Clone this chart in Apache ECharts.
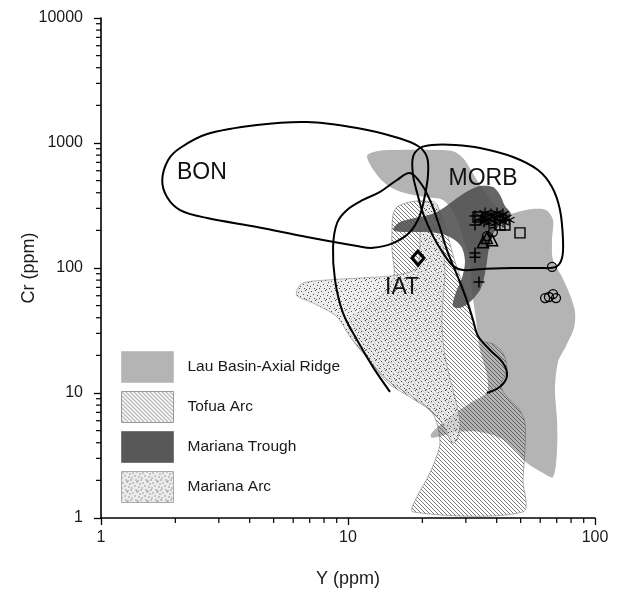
<!DOCTYPE html>
<html>
<head>
<meta charset="utf-8">
<script src="https://cdn.jsdelivr.net/npm/echarts/dist/echarts.min.js"></script>
<style>
  html, body { margin: 0; padding: 0; background: #fff; }
  #chart { width: 627px; height: 597px; }
</style>
</head>
<body>
<div id="chart"></div>
<script>
// Field outlines, as [Y ppm, Cr ppm] vertices
const lauBasin = [
  [11.94,787],[13.23,863],[16.24,879],[21.48,879],[26.37,863],[29.21,759],[31.77,586],[34.87,437],
  [38.64,331],[43.21,270],[48.79,281],[55.58,296],[63.33,291],[67.61,242],[66.97,167],[67.61,116],
  [73.53,84.7],[79.22,60.8],[82.99,44.5],[82.22,33.1],[76.32,23.8],[70.84,17.7],[68.88,10.6],
  [70.18,6.08],[70.18,3.5],[67.61,2.13],[61.58,2.29],[53.05,2.75],[47.44,3.5],[41.25,4.37],
  [34.22,4.88],[27.63,4.88],[21.88,4.37],[21.68,4.7],[23.58,5.55],[27.12,6.92],[31.77,8.47],
  [36.54,10.2],[36.54,13.9],[34.22,22.1],[32.98,38.4],[31.77,66.7],[31.18,116],[28.94,184],
  [27.12,265],[24.24,350],[20.5,370],[17.01,398],[14.79,445],[13.11,555]
];
const tofuaArc = [
  [15.21,265],[15.79,308],[17.82,337],[20.5,344],[22.72,319],[24.24,242],[25.63,167],[27.12,112],
  [28.94,77.3],[30.6,55.5],[32.37,37.0],[34.22,26.5],[38.64,24.7],[42.42,20.9],[44.03,15.3],
  [41.64,11.4],[44.03,9.29],[49.24,7.45],[52.07,5.75],[52.07,3.5],[51.11,2.01],[51.11,1.12],
  [18.33,1.12],[19.2,1.53],[21.08,2.13],[22.72,3.02],[23.58,4.06],[22.09,6.79],[17.82,9.29],
  [14.52,12.0],[12.16,18.4],[10.47,26.5],[10.0,35.0],[10.38,39.8],[11.94,49.7],[14.12,64.3],
  [15.36,87.9],[15.07,139],[15.07,201]
];
const marianaArc = [
  [6.22,66.7],[6.57,75.9],[8.22,80.2],[11.19,83.2],[14.79,86.3],[17.82,92.9],[19.2,104],[19.56,167],
  [19.56,265],[20.12,325],[21.88,344],[23.14,313],[23.79,233],[24.24,153],[24.7,91.2],[24.24,55.5],
  [24.02,35.0],[24.47,22.1],[25.4,15.3],[26.61,10.6],[27.88,7.31],[28.41,5.55],[27.63,4.21],
  [26.37,3.98],[24.7,5.25],[22.09,7.05],[17.82,9.64],[14.38,12.7],[11.94,19.4],[10.19,28.1],
  [9.03,40.6],[7.22,52.5],[6.22,59.7]
];
const marianaTrough = [
  [15.21,205],[16.24,233],[18.67,251],[21.88,270],[24.7,308],[27.63,363],[30.6,413],[34.22,453],
  [38.64,445],[41.25,384],[43.21,313],[45.7,270],[42.42,233],[39.01,194],[37.23,145],[36.19,100],
  [34.55,69.2],[31.48,54.5],[28.41,47.9],[26.61,49.7],[27.37,64.3],[28.94,83.2],[29.76,112],
  [28.94,145],[27.12,167],[24.02,187],[20.5,194],[17.01,194],[15.5,198]
];

// Discrimination field boundaries
const bonField = [
  [1.77,506],[1.87,731],[2.09,912],[2.69,1180],[4.28,1393],[6.82,1472],[10.88,1318],[15.5,1117],
  [19.2,946],[20.88,773],[21.08,555],[20.5,384],[19.56,265],[17.82,194],[15.21,158],[12.63,145],
  [10.88,150],[6.82,177],[4.28,213],[2.69,251],[2.09,291],[1.85,370]
];
const morbField = [
  [18.33,773],[19.56,912],[21.88,964],[27.12,964],[34.22,912],[46.56,773],[58.77,608],[66.97,445],
  [72.17,291],[74.21,167],[73.53,120],[69.52,102],[59.88,100],[46.56,100],[35.2,98.2],[29.21,96.4],
  [26.61,104],[24.24,132],[22.09,180],[20.31,261],[19.2,377],[18.33,555]
];
const iatField = [
  [14.79,10.2],[12.63,16.1],[10.88,26.5],[9.54,43.7],[8.86,80.2],[8.7,147],[9.03,229],[9.91,291],
  [11.5,350],[13.48,406],[15.79,506],[17.82,575],[19.94,461],[21.88,319],[23.58,209],[25.16,139],
  [27.63,87.9],[30.04,57.5],[32.07,38.4],[33.6,28.6],[37.57,22.1],[42.42,17.4],[44.03,13.7],
  [41.25,11.2],[36.54,10.0]
];

// Samples
const diamondPts = [[19.2,120]];
const plusPts = [[33.9,77.3],[32.67,132],[32.67,122],[32.67,261],[32.67,221],[34.55,242]];
const squarePts = [[49.7,191],[33.6,256],[43.2,221],[41.2,221]];
const trianglePts = [[35.2,161],[38.3,167],[36.5,174]];
const circlePts = [[38.6,194],[36.5,180],[67.0,102],[62.8,57.5],[65.1,58.6],[67.6,61.9],[69.5,57.5]];
const asteriskPts = [
  [34.87,256],[35.87,275],[36.89,247],[37.92,270],[39.01,251],[40.11,275],[41.25,256],[42.42,270],
  [43.62,251],[37.23,229],[39.74,229],[42.42,233],[35.53,233],[44.86,242]
];

// Field names and where they sit
const fieldLabels = [
  { name: 'BON', value: [2.56, 575] },
  { name: 'MORB', value: [35.2, 515] },
  { name: 'IAT', value: [16.55, 69.2] }
];

const xMinorTicks = [2,3,4,5,6,7,8,9,20,30,40,50,60,70,80,90];
const yMinorTicks = [2,3,4,5,6,7,8,9,20,30,40,50,60,70,80,90,200,300,400,500,600,700,800,900,2000,3000,4000,5000,6000,7000,8000,9000];

const legendNames = ['Lau Basin-Axial Ridge', 'Tofua Arc', 'Mariana Trough', 'Mariana Arc'];

// Fill tiles
function hatchTile() {
  const c = document.createElement('canvas');
  c.width = 4; c.height = 4;
  const g = c.getContext('2d');
  g.strokeStyle = 'rgba(45,45,45,0.85)';
  g.lineWidth = 0.75;
  g.beginPath();
  g.moveTo(-1, -1); g.lineTo(5, 5);
  g.moveTo(-1, 3); g.lineTo(1, 5);
  g.moveTo(3, -1); g.lineTo(5, 1);
  g.stroke();
  return c;
}
function stippleTile() {
  const c = document.createElement('canvas');
  c.width = 10; c.height = 10;
  const g = c.getContext('2d');
  g.fillStyle = 'rgba(228,228,228,0.7)';
  g.fillRect(0, 0, 10, 10);
  g.fillStyle = 'rgba(60,60,60,0.9)';
  [[1,1],[5,0],[8,2],[3,4],[7,5],[0,6],[4,8],[9,8],[6,9]].forEach(function (d) { g.fillRect(d[0], d[1], 1, 1); });
  return c;
}
const hatchFill = { image: hatchTile(), repeat: 'repeat' };
const stippleFill = { image: stippleTile(), repeat: 'repeat' };

const LAU_COLOR = '#b4b4b4';
const TROUGH_COLOR = 'rgba(80,80,80,0.88)';

function regionSeries(name, pts, style, smooth) {
  return {
    type: 'custom', name: name, coordinateSystem: 'cartesian2d', silent: true,
    data: pts,
    renderItem: function (params, api) {
      if (params.dataIndex !== 0) return null;
      return {
        type: 'polygon',
        shape: { points: pts.map(function (p) { return api.coord(p); }), smooth: smooth },
        style: style
      };
    }
  };
}
function outlineSeries(name, pts, closed) {
  return {
    type: 'custom', name: name, coordinateSystem: 'cartesian2d', silent: true,
    data: pts,
    renderItem: function (params, api) {
      if (params.dataIndex !== 0) return null;
      return {
        type: closed ? 'polygon' : 'polyline',
        shape: { points: pts.map(function (p) { return api.coord(p); }), smooth: 0.35 },
        style: { fill: closed ? 'none' : null, stroke: '#000', lineWidth: 2 }
      };
    }
  };
}
function tickSeries(values, horizontal) {
  return {
    type: 'custom', coordinateSystem: 'cartesian2d', silent: true,
    data: values.map(function (v) { return horizontal ? [v, 1] : [1, v]; }),
    renderItem: function (params, api) {
      const p = api.coord([api.value(0), api.value(1)]);
      const shape = horizontal
        ? { x1: p[0], y1: p[1], x2: p[0], y2: p[1] + 5 }
        : { x1: p[0] - 5, y1: p[1], x2: p[0], y2: p[1] };
      return { type: 'line', shape: shape, style: { stroke: '#000', lineWidth: 1.2 } };
    }
  };
}
function markerSeries(name, pts, symbol, size, width) {
  return {
    type: 'scatter', name: name, data: pts, symbol: symbol, symbolSize: size, silent: true,
    itemStyle: { color: 'rgba(0,0,0,0)', borderColor: '#000', borderWidth: width || 1.2, opacity: 1 }
  };
}

const FONT = '"Liberation Sans", Arial, Helvetica, sans-serif';

const chart = echarts.init(document.getElementById('chart'), null, { renderer: 'canvas' });
chart.setOption({
  backgroundColor: '#fff',
  animation: false,
  grid: { left: 101, right: 32, top: 18, bottom: 79, containLabel: false },
  legend: {
    orient: 'vertical', left: 121, top: 351, padding: 0,
    itemWidth: 52, itemHeight: 31, itemGap: 8,
    icon: 'rect', selectedMode: false,
    textStyle: { fontFamily: FONT, fontSize: 15.5, color: '#1a1a1a', padding: [0, 0, 0, 9] },
    data: [
      { name: legendNames[0], itemStyle: { color: LAU_COLOR, borderColor: '#c4c4c4', borderWidth: 1 } },
      { name: legendNames[1], itemStyle: { color: hatchFill, borderColor: '#999', borderWidth: 1 } },
      { name: legendNames[2], itemStyle: { color: '#585858', borderColor: '#777', borderWidth: 1 } },
      { name: legendNames[3], itemStyle: { color: stippleFill, borderColor: '#aaa', borderWidth: 1 } }
    ]
  },
  xAxis: {
    type: 'log', logBase: 10, min: 1, max: 100,
    name: 'Y (ppm)', nameLocation: 'middle', nameGap: 52,
    nameTextStyle: { fontFamily: FONT, fontSize: 18, color: '#1a1a1a' },
    axisLine: { lineStyle: { color: '#000', width: 1.6 } },
    axisTick: { length: 7, lineStyle: { color: '#000', width: 1.3 } },
    axisLabel: { fontFamily: FONT, fontSize: 16, color: '#1a1a1a', margin: 12,
                 formatter: function (v) { return String(Math.round(v)); } },
    splitLine: { show: false }
  },
  yAxis: {
    type: 'log', logBase: 10, min: 1, max: 10000,
    name: 'Cr (ppm)', nameLocation: 'middle', nameGap: 63, nameRotate: 90,
    nameMoveOverlap: false,
    nameTextStyle: { fontFamily: FONT, fontSize: 18, color: '#1a1a1a' },
    axisLine: { lineStyle: { color: '#000', width: 1.6 } },
    axisTick: { length: 7, lineStyle: { color: '#000', width: 1.3 } },
    axisLabel: { fontFamily: FONT, fontSize: 16, color: '#1a1a1a', margin: 18,
                 formatter: function (v) { return String(Math.round(v)); } },
    splitLine: { show: false }
  },
  series: [
    regionSeries(legendNames[0], lauBasin, { fill: LAU_COLOR }, 0.3),
    regionSeries(legendNames[1], tofuaArc, { fill: hatchFill, stroke: 'rgba(90,90,90,0.7)', lineWidth: 0.7 }, 0.3),
    regionSeries(legendNames[3], marianaArc, { fill: stippleFill, stroke: 'rgba(130,130,130,0.7)', lineWidth: 0.8 }, 0.3),
    regionSeries(legendNames[2], marianaTrough, { fill: TROUGH_COLOR }, 0.3),
    outlineSeries('BON', bonField, true),
    outlineSeries('MORB', morbField, true),
    outlineSeries('IAT', iatField, false),
    tickSeries(xMinorTicks, true),
    tickSeries(yMinorTicks, false),
    markerSeries('diamond', diamondPts, 'diamond', [12, 14], 3),
    markerSeries('plus', plusPts, 'path://M0,5L10,5M5,0L5,10', 11, 1.5),
    markerSeries('square', squarePts, 'rect', 10, 1.4),
    markerSeries('triangle', trianglePts, 'triangle', 11, 1.5),
    markerSeries('circle', circlePts, 'circle', 9, 1.3),
    markerSeries('asterisk', asteriskPts, 'path://M5,0L5,10M0.7,2.5L9.3,7.5M0.7,7.5L9.3,2.5', 11, 1.3),
    {
      type: 'scatter', name: 'fields', data: fieldLabels, symbolSize: 0, silent: true,
      itemStyle: { opacity: 1 },
      label: { show: true, position: 'inside', formatter: '{b}',
               fontFamily: FONT, fontSize: 23, color: '#111' }
    }
  ]
});
</script>
</body>
</html>
